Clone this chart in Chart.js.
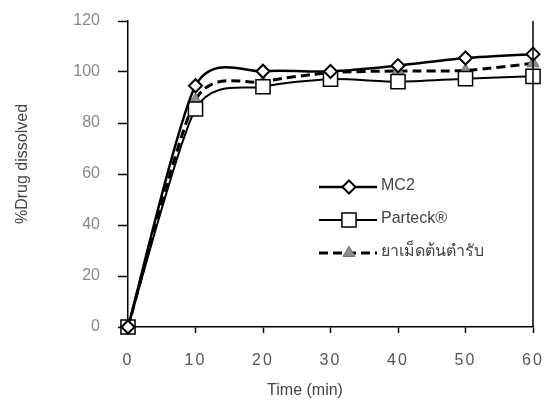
<!DOCTYPE html>
<html>
<head>
<meta charset="utf-8">
<script src="https://cdn.jsdelivr.net/npm/chart.js@4"></script>
<style>
  html, body { margin: 0; padding: 0; background: #fff; }
  #wrap { width: 546px; height: 401px; }
</style>
</head>
<body>
<div id="wrap"><canvas id="grafico" width="546" height="401"></canvas></div>
<script>
// datos
const tiempos = [0, 10, 20, 30, 40, 50, 60];
const mc2 = [0, 94.6, 100.3, 100.2, 102.5, 105.5, 107];
const parteck = [0, 85.5, 94.2, 97.2, 96.2, 97.4, 98.3];
const ยาเม็ด = [0, 89, 96.2, 99.7, 100.4, 100.6, 103.4];
const nombres = ['MC2', 'Parteck®', 'ยาเม็ดต้นตำรับ'];
const ticksY = [0, 20, 40, 60, 80, 100, 120];
const tituloX = 'Time (min)';
const tituloY = '%Drug dissolved';

const fuente = '"Liberation Sans", Arial, sans-serif';

function puntos(vals) {
    return tiempos.map((t, i) => ({ x: t, y: vals[i] }));
}

// suavizado tipo Excel: control = p ± (siguiente - anterior) / 8
const suavizado = {
    id: 'suavizado',
    beforeDatasetsDraw(chart) {
        chart.data.datasets.forEach((ds, i) => {
            const meta = chart.getDatasetMeta(i);
            meta.dataset.updateControlPoints(chart.chartArea, 'x');
            const pts = meta.data;
            pts.forEach((p, k) => {
                const ant = pts[Math.max(k - 1, 0)];
                const sig = pts[Math.min(k + 1, pts.length - 1)];
                const dx = (sig.x - ant.x) / 8, dy = (sig.y - ant.y) / 8;
                p.cp1x = p.x - dx; p.cp1y = p.y - dy;
                p.cp2x = p.x + dx; p.cp2y = p.y + dy;
            });
        });
    }
};

// espaciado de letras en las etiquetas del eje x
const espaciado = {
    id: 'espaciado',
    beforeDraw(chart) {
        const sx = chart.scales.x;
        if (sx._espaciado) return;
        const orig = sx.drawLabels.bind(sx);
        sx.drawLabels = function(area) {
            const c = this.ctx;
            c.save();
            c.letterSpacing = '2px';
            orig(area);
            c.restore();
        };
        sx._espaciado = true;
    }
};

// línea derecha y títulos de los ejes
const extras = {
    id: 'extras',
    afterDatasetsDraw(chart) {
        const { ctx, chartArea } = chart;
        ctx.save();
        ctx.strokeStyle = '#000';
        ctx.lineWidth = 1.5;
        ctx.beginPath();
        ctx.moveTo(chartArea.right, chartArea.top);
        ctx.lineTo(chartArea.right, chartArea.bottom);
        ctx.stroke();

        ctx.fillStyle = '#444';
        ctx.font = '16px ' + fuente;
        ctx.textAlign = 'center';
        ctx.textBaseline = 'middle';
        ctx.fillText(tituloX, 305, 391);

        ctx.translate(23, 164);
        ctx.rotate(-Math.PI / 2);
        ctx.fillText(tituloY, 0, 0);
        ctx.restore();
    }
};

// leyenda dentro del gráfico
const leyenda = {
    id: 'leyenda',
    afterDraw(chart) {
        const ctx = chart.ctx;
        const x0 = 319, x1 = 377, yIni = 187, paso = 33;
        ctx.save();
        chart.data.datasets.forEach((ds, i) => {
            const y = yIni + i * paso;
            ctx.strokeStyle = ds.borderColor;
            ctx.lineWidth = ds.borderWidth;
            ctx.setLineDash(ds.borderDash || []);
            ctx.beginPath();
            ctx.moveTo(x0, y);
            ctx.lineTo(x1, y);
            ctx.stroke();
            ctx.setLineDash([]);
            ctx.fillStyle = ds.pointBackgroundColor;
            ctx.strokeStyle = ds.pointBorderColor;
            ctx.lineWidth = ds.pointBorderWidth;
            Chart.helpers.drawPoint(ctx, {
                pointStyle: ds.pointStyle,
                radius: ds.pointRadius,
                borderWidth: ds.pointBorderWidth,
                rotation: 0
            }, 349, y);
            ctx.fillStyle = '#444';
            ctx.font = '16px ' + fuente;
            ctx.textAlign = 'left';
            ctx.textBaseline = 'middle';
            ctx.fillText(ds.label, x1 + 4, y - 1);
        });
        ctx.restore();
    }
};

const ctx = document.getElementById('grafico').getContext('2d');
new Chart(ctx, {
    type: 'line',
    data: {
        datasets: [
            {
                label: nombres[0], data: puntos(mc2),
                borderColor: '#000', borderWidth: 2.5,
                pointStyle: 'rectRot', pointRadius: 6.5, pointBorderWidth: 2,
                pointBackgroundColor: '#fff', pointBorderColor: '#000',
                tension: 0.3, clip: false
            },
            {
                label: nombres[1], data: puntos(parteck),
                borderColor: '#000', borderWidth: 2,
                pointStyle: 'rect', pointRadius: 10, pointBorderWidth: 1.5,
                pointBackgroundColor: '#fff', pointBorderColor: '#000',
                tension: 0.3, clip: false
            },
            {
                label: nombres[2], data: puntos(ยาเม็ด),
                borderColor: '#000', borderWidth: 3, borderDash: [9, 5],
                pointStyle: 'triangle', pointRadius: 7, pointBorderWidth: 1,
                pointBackgroundColor: '#8c8c8c', pointBorderColor: '#777',
                tension: 0.3, clip: false
            }
        ]
    },
    options: {
        responsive: false,
        animation: false,
        layout: { padding: { left: 0, right: 13, top: 21, bottom: 0 } },
        plugins: { legend: { display: false }, tooltip: { enabled: false } },
        scales: {
            x: {
                type: 'linear', min: 0, max: 60,
                afterFit(s) { s.height = 74; s.paddingLeft = 0; s.paddingRight = 0; },
                ticks: {
                    stepSize: 10, padding: 18, color: '#555',
                    font: { family: fuente, size: 16 }
                },
                grid: { drawOnChartArea: false, drawTicks: true, tickLength: 6, tickColor: '#000', tickWidth: 1.5 },
                border: { display: true, color: '#000', width: 1.5 }
            },
            y: {
                min: 0, max: 120,
                afterFit(s) { s.width = 128; s.paddingTop = 0; s.paddingBottom = 0; },
                afterBuildTicks(s) { s.ticks = ticksY.map(v => ({ value: v })); },
                ticks: {
                    padding: 18, color: '#888',
                    font: { family: fuente, size: 16 }
                },
                grid: { drawOnChartArea: false, drawTicks: true, tickLength: 10, tickColor: '#000', tickWidth: 1.5 },
                border: { display: true, color: '#000', width: 1.5 }
            }
        }
    },
    plugins: [suavizado, espaciado, extras, leyenda]
});
</script>
</body>
</html>
